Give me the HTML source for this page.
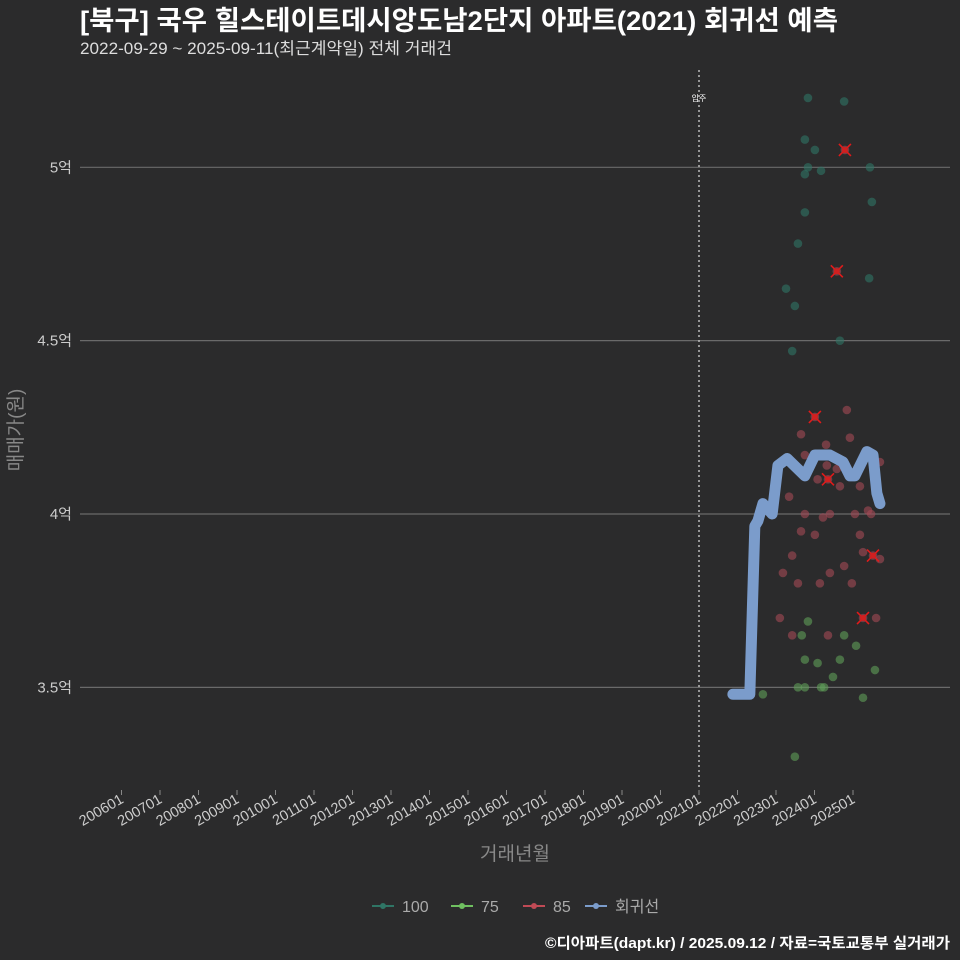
<!DOCTYPE html>
<html><head><meta charset="utf-8"><style>
body{margin:0;background:#2b2b2c;}
svg{display:block;font-family:"Liberation Sans","Noto Sans CJK KR",sans-serif;}
</style></head><body>
<svg id="c" width="960" height="960">
<rect width="960" height="960" fill="#2b2b2c"/>
<text x="80" y="30" font-size="27" font-weight="bold" fill="#fff" textLength="758" lengthAdjust="spacingAndGlyphs">[북구] 국우 힐스테이트데시앙도남2단지 아파트(2021) 회귀선 예측</text>
<text x="80" y="54" font-size="16.5" fill="#ddd" textLength="372" lengthAdjust="spacingAndGlyphs">2022-09-29 ~ 2025-09-11(최근계약일) 전체 거래건</text>
<g id="grid"></g><g id="marks"></g>
<text transform="translate(22,430) rotate(-90)" text-anchor="middle" font-size="19" fill="#888">매매가(원)</text>
<text x="515" y="860" text-anchor="middle" font-size="19" fill="#888">거래년월</text>
<g id="legend"></g>
<text x="950" y="948" text-anchor="end" font-size="15" font-weight="bold" fill="#fff" textLength="405" lengthAdjust="spacingAndGlyphs">©디아파트(dapt.kr) / 2025.09.12 / 자료=국토교통부 실거래가</text>
</svg>
<script>
const yTicks=[3.5,4,4.5,5];
const yTickLabels=["3.5억","4억","4.5억","5억"];
const xTickYears=[2006,2007,2008,2009,2010,2011,2012,2013,2014,2015,2016,2017,2018,2019,2020,2021,2022,2023,2024,2025];
const moveInYear=2021;
const s100T=[2023.83,2024.77,2023.75,2024.01,2023.83,2024.17,2023.75,2025.44,2025.49,2023.75,2023.57,2025.42,2023.26,2023.49,2024.66,2023.42];
const s100V=[5.20,5.19,5.08,5.05,5.00,4.99,4.98,5.00,4.90,4.87,4.78,4.68,4.65,4.60,4.50,4.47];
const s85T=[2024.84,2023.65,2024.92,2024.30,2023.75,2025.70,2024.32,2024.58,2024.08,2024.66,2025.18,2023.34,2023.75,2024.40,2024.22,2025.05,2025.39,2025.47,2023.65,2024.01,2025.18,2023.42,2025.26,2025.70,2024.77,2023.18,2024.40,2023.57,2024.14,2024.97,2023.10,2025.60,2023.42,2024.35,2024.01,2024.79,2024.58,2024.35,2025.52,2025.26];
const s85V=[4.30,4.23,4.22,4.20,4.17,4.15,4.14,4.13,4.10,4.08,4.08,4.05,4.00,4.00,3.99,4.00,4.01,4.00,3.95,3.94,3.94,3.88,3.89,3.87,3.85,3.83,3.83,3.80,3.80,3.80,3.70,3.70,3.65,3.65,4.28,5.05,4.70,4.10,3.88,3.70];
const s75T=[2023.83,2023.67,2024.77,2025.08,2023.75,2024.08,2024.66,2025.57,2024.48,2023.57,2023.75,2024.17,2024.25,2022.66,2025.26,2023.49];
const s75V=[3.69,3.65,3.65,3.62,3.58,3.57,3.58,3.55,3.53,3.50,3.50,3.50,3.50,3.48,3.47,3.30];
const hiT=[2024.79,2024.58,2024.01,2024.35,2025.52,2025.26];
const hiV=[5.05,4.70,4.28,4.10,3.88,3.70];
const regT=[2021.88,2022.32,2022.45,2022.53,2022.66,2022.90,2023.05,2023.29,2023.75,2024.01,2024.40,2024.74,2024.92,2025.05,2025.36,2025.52,2025.62,2025.70];
const regV=[3.48,3.48,3.965,3.98,4.03,4.00,4.14,4.16,4.11,4.17,4.17,4.15,4.11,4.11,4.18,4.17,4.06,4.03];

const NS="http://www.w3.org/2000/svg";
const X=t=>699+(t-2021)*38.5;
const Y=v=>514-(v-4)*346.7;
function mk(tag,attrs,parent){const e=document.createElementNS(NS,tag);for(const k in attrs)e.setAttribute(k,attrs[k]);parent.appendChild(e);return e;}
const grid=document.getElementById('grid'),marks=document.getElementById('marks'),legend=document.getElementById('legend');
yTicks.forEach((v,i)=>{
  const l=mk('line',{x1:80,x2:950,y1:Y(v),y2:Y(v),stroke:'#6a6a6a','stroke-width':1.2},grid);
  
  
  const t=mk('text',{x:72,y:Y(v)+5,'text-anchor':'end','font-size':15,fill:'#ccc'},grid);
  t.textContent=yTickLabels[i];
  
  
});
xTickYears.forEach(y=>{
  const x=X(y);
  const tk=mk('line',{x1:x,x2:x,y1:790,y2:795,stroke:'#888'},grid);
  
  
  const t=mk('text',{transform:`translate(${x+3},${802}) rotate(-30)`,'text-anchor':'end','font-size':14.5,fill:'#ccc'},grid);
  t.textContent=y+'01';
  
  
});
const mv=mk('line',{x1:X(moveInYear),x2:X(moveInYear),y1:70,y2:790,stroke:'#bbb','stroke-width':1.5,'stroke-dasharray':'2,3'},grid);


const mvt=mk('text',{x:X(moveInYear),y:101,'text-anchor':'middle','font-size':8,fill:'#fff'},grid);
mvt.textContent='입주';


function pts(T,V,col,name){T.forEach((t,i)=>{
  const c=mk('circle',{cx:X(t),cy:Y(V[i]),r:4.3,fill:col,'fill-opacity':0.6},marks);
  
  
});}
pts(s100T,s100V,'#2f7565','point-100');
pts(s85T,s85V,'#a34a55','point-85');
pts(s75T,s75V,'#5f9e58','point-75');
const d=regT.map((t,i)=>(i?'L':'M')+X(t)+','+Y(regV[i])).join(' ');
const rl=mk('path',{d:d,fill:'none',stroke:'#7b9ccb','stroke-width':11,'stroke-linejoin':'round','stroke-linecap':'round'},marks);


hiT.forEach((t,i)=>{
  const x=X(t),y=Y(hiV[i]);
  const p=mk('path',{d:`M${x-6},${y-6}L${x+6},${y+6}M${x-6},${y+6}L${x+6},${y-6}`,stroke:'#e21a1a','stroke-width':1.6},marks);
  
  
  const c=mk('circle',{cx:x,cy:y,r:3,fill:'#d02020'},marks);
  
  
});
const legItems=[['100','#2f7565',372],['75','#6fc060',451],['85','#c04a55',523],['회귀선','#7b9ccb',585]];
legItems.forEach(([lab,col,x])=>{
  const g=mk('g',{},legend);
  
  
  mk('line',{x1:x,x2:x+22,y1:906,y2:906,stroke:col,'stroke-width':2},g);
  mk('circle',{cx:x+11,cy:906,r:3,fill:col},g);
  const t=mk('text',{x:x+30,y:912,'font-size':16,fill:'#aaa'},g);
  t.textContent=lab;
});
</script>
</body></html>
